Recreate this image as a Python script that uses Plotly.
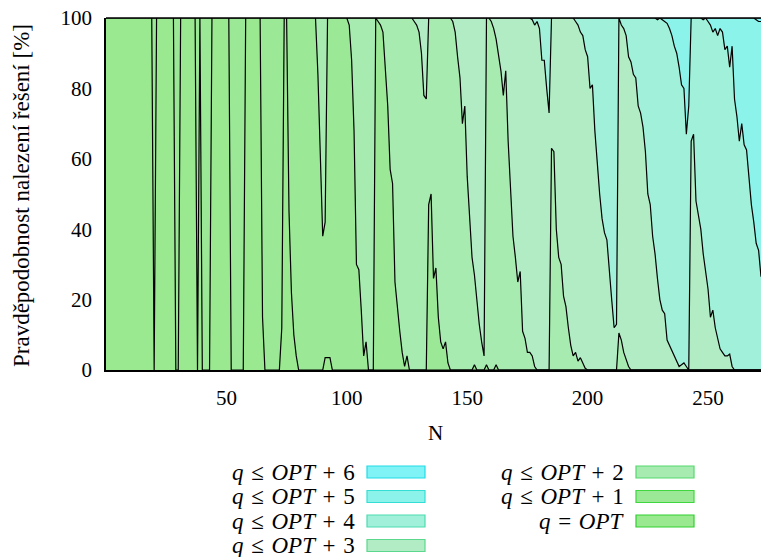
import plotly.graph_objects as go

# ---------------- data (cumulative probabilities, %) ----------------
N_OPT = [0, 19, 20, 21, 28, 29, 30, 31, 37, 38, 39, 40, 43, 44, 51, 52, 57, 58, 64, 65, 66,
         72, 73, 74, 75, 76, 77, 78, 79, 80, 90, 91, 93, 94, 272]
P_OPT = [100, 100, 0, 100, 100, 0, 0, 100, 100, 0, 100, 0, 0, 100, 100, 0, 0, 100, 100, 15, 0,
         0, 12, 100, 100, 45, 22, 10, 4, 0, 0, 3.5, 3.5, 0, 0]

N_P1 = [0, 87, 88, 89, 90, 91, 92,
        100, 101, 102, 103, 104, 105, 106, 107, 108, 109,
        111, 112, 113, 114, 115, 116, 117, 118, 119, 120, 121, 122, 123, 124, 125, 126,
        133, 134, 135, 136, 137, 138, 139, 140, 141, 142, 143,
        152, 153, 154, 157, 158, 159, 161, 162, 163, 272]
P_P1 = [100, 100, 84, 62, 38, 42, 100,
        100, 98, 88, 68, 30, 28.5, 17, 4, 8, 0,
        0, 100, 99, 98, 96, 86, 75, 57, 53, 25, 17, 11, 5, 1, 4, 0,
        0, 47, 50, 26, 29, 15, 8, 6, 8, 2, 0,
        0, 1.5, 0, 0, 1.5, 0, 0, 1.5, 0, 0]

N_P2 = [0, 127, 128, 129, 130, 131, 132, 133, 134,
        143, 144, 145, 146, 147, 148, 149, 150, 151, 152, 153, 154, 155, 156, 157,
        158, 159, 160, 161, 162, 163, 164, 165, 166, 167, 168, 169, 170, 171, 172, 173, 174, 175,
        176, 177, 178, 179,
        184, 185, 186, 187, 188, 189, 190, 191, 192, 193, 194, 195, 196, 197, 198, 199, 200,
        212, 213, 214, 215, 216, 217, 218, 272]
P_P2 = [100, 100, 99, 98, 96, 90, 78, 77, 100,
        100, 99, 96, 89, 83, 70, 75, 55, 45, 32, 27, 19, 13, 8, 4,
        100, 100, 99, 97, 94, 90, 85, 78, 85, 65, 50, 38, 32, 25, 28, 11, 9, 5,
        5, 4, 1, 0,
        0, 63, 62, 40, 32, 30, 21, 18, 12, 7, 4, 5, 2.5, 3.5, 2, 0.5, 0,
        0, 10.5, 8.5, 5, 3, 1, 0, 0]

N_P3 = [0, 175, 176, 177, 178, 179, 180, 181, 182, 183, 184,
        185, 194, 195, 196, 197, 198, 199, 200, 201, 202, 203, 204, 205, 206, 207, 208, 209,
        210, 211, 212,
        213, 214, 215, 216, 217, 218, 219, 220, 221, 222, 223, 224, 225, 226, 227, 228, 229,
        230, 231, 232, 233, 234, 235, 236, 237, 238, 239, 240, 241, 242,
        243, 244, 245, 246, 247, 248, 249, 250, 251, 252, 253, 254, 255, 256, 257, 258, 259,
        260, 261, 272]
P_P3 = [100, 100, 100, 99.5, 98, 99, 97, 88, 88, 80, 73,
        100, 100, 99, 98, 96, 95, 91, 89, 80, 81, 68, 58, 50, 43, 39, 37, 27,
        20, 12, 13,
        100, 98, 97, 95, 89, 87.5, 84, 83, 75, 73, 69, 62, 50, 47, 38, 33, 26,
        20, 17, 16, 8.5, 7, 5, 4, 2, 1, 1.5, 2, 1, 0,
        65, 67, 48, 44, 40, 33, 28, 23, 15, 17, 12, 9, 6, 5, 4, 4, 4.5,
        1, 0, 0]

N_P4 = [0, 228, 229, 230, 231, 232, 233, 234, 235, 236, 237, 238, 239, 240, 241, 242,
        243, 245, 246, 247, 248, 249, 250, 251, 252, 253, 254, 255, 256, 257, 258, 259,
        260, 261, 262, 263, 264, 265, 266, 267, 268, 269, 270, 271, 272]
P_P4 = [100, 100, 99.5, 100, 99.5, 99, 98.5, 97, 95, 92, 90, 86, 81, 80, 67, 75,
        100, 100, 100, 100, 99.5, 100, 99, 98, 96, 97, 95, 97, 96, 91, 92, 86,
        92, 77, 72, 65, 70, 64, 62.5, 54, 47, 42, 36, 34, 26.5]

N_P5 = [0, 269, 270, 271, 272]
P_P5 = [100, 100, 99.5, 99, 99]

N_P6 = [0, 272]
P_P6 = [100, 100]

SERIES = [
    ("q ≤ OPT + 6", N_P6, P_P6),
    ("q ≤ OPT + 5", N_P5, P_P5),
    ("q ≤ OPT + 4", N_P4, P_P4),
    ("q ≤ OPT + 3", N_P3, P_P3),
    ("q ≤ OPT + 2", N_P2, P_P2),
    ("q ≤ OPT + 1", N_P1, P_P1),
    ("q = OPT", N_OPT, P_OPT),
]
SP = "\u2004"
LEGEND_HTML = [
    f"<i>q</i>{SP}≤{SP}<i>OPT</i>{SP}+{SP}6",
    f"<i>q</i>{SP}≤{SP}<i>OPT</i>{SP}+{SP}5",
    f"<i>q</i>{SP}≤{SP}<i>OPT</i>{SP}+{SP}4",
    f"<i>q</i>{SP}≤{SP}<i>OPT</i>{SP}+{SP}3",
    f"<i>q</i>{SP}≤{SP}<i>OPT</i>{SP}+{SP}2",
    f"<i>q</i>{SP}≤{SP}<i>OPT</i>{SP}+{SP}1",
    f"<i>q</i>{SP}={SP}<i>OPT</i>",
]
FILLS = ['#80f3f6', '#8cf3ea', '#a1f0d9', '#b2ecc5', '#a7ebb1', '#9be997', '#9ae990']
EDGES = ['#22dbe6', '#33dfd4', '#4ddbb0', '#5cd88e', '#56d76f', '#3fd640', '#30cf30']

W, H = 761, 557
L, R, T, B = 106, 0, 18, 187
PW, PH = W - L - R, H - T - B
FONT = "Liberation Serif, Times New Roman, serif"

fig = go.Figure()
for (name, xs, ys), fc in zip(SERIES, FILLS):
    fig.add_trace(go.Scatter(x=xs, y=ys, mode='lines', fill='tozeroy', fillcolor=fc,
                             line=dict(color='black', width=1.2), name=name,
                             showlegend=False, hoverinfo='skip'))


def px(xp):
    return (xp - L) / PW


def py(yp):
    return (H - B - yp) / PH


shapes = [dict(type='line', xref='paper', yref='paper', x0=0, x1=1, y0=1, y1=1,
               line=dict(color='black', width=1.5))]
annotations = []

# manual legend (two columns, column-major)
rows_y = [472, 496.5, 521, 545.5]
cols = [(357, 367, 425), (626, 636, 694)]
for i, (html, fc, ec) in enumerate(zip(LEGEND_HTML, FILLS, EDGES)):
    c = 0 if i < 4 else 1
    r = i if i < 4 else i - 4
    tx, sx0, sx1 = cols[c]
    yc = rows_y[r]
    shapes.append(dict(type='rect', xref='paper', yref='paper',
                       x0=px(sx0), x1=px(sx1), y0=py(yc + 6), y1=py(yc - 6),
                       fillcolor=fc, line=dict(color=ec, width=1.2)))
    annotations.append(dict(xref='paper', yref='paper', x=px(tx), y=py(yc),
                            xanchor='right', yanchor='middle', showarrow=False,
                            text=html, font=dict(family=FONT, size=23, color='black')))

annotations.append(dict(xref='paper', yref='paper', x=px(436), y=py(433),
                        xanchor='center', yanchor='middle', showarrow=False, text='N',
                        font=dict(family=FONT, size=21, color='black')))
annotations.append(dict(xref='paper', yref='paper', x=px(22), y=py(196),
                        xanchor='center', yanchor='middle', showarrow=False, textangle=-90,
                        text='Pravděpodobnost nalezení řešení [%]',
                        font=dict(family=FONT, size=23, color='black')))

fig.update_layout(
    width=W, height=H, margin=dict(l=L, r=R, t=T, b=B),
    paper_bgcolor='white', plot_bgcolor='white',
    font=dict(family=FONT, size=21, color='black'),
    shapes=shapes, annotations=annotations,
    xaxis=dict(range=[0, 272], tickvals=[50, 100, 150, 200, 250], showgrid=False,
               zeroline=False, showline=True, linecolor='black', linewidth=1.5,
               ticks='outside', ticklen=8, tickcolor='rgba(0,0,0,0)',
               tickfont=dict(family=FONT, size=21)),
    yaxis=dict(range=[0, 100], tickvals=[0, 20, 40, 60, 80, 100], showgrid=False,
               zeroline=False, showline=True, linecolor='black', linewidth=1.5,
               ticks='outside', ticklen=8, tickcolor='rgba(0,0,0,0)',
               tickfont=dict(family=FONT, size=21)),
)

fig.write_html("out.html")
